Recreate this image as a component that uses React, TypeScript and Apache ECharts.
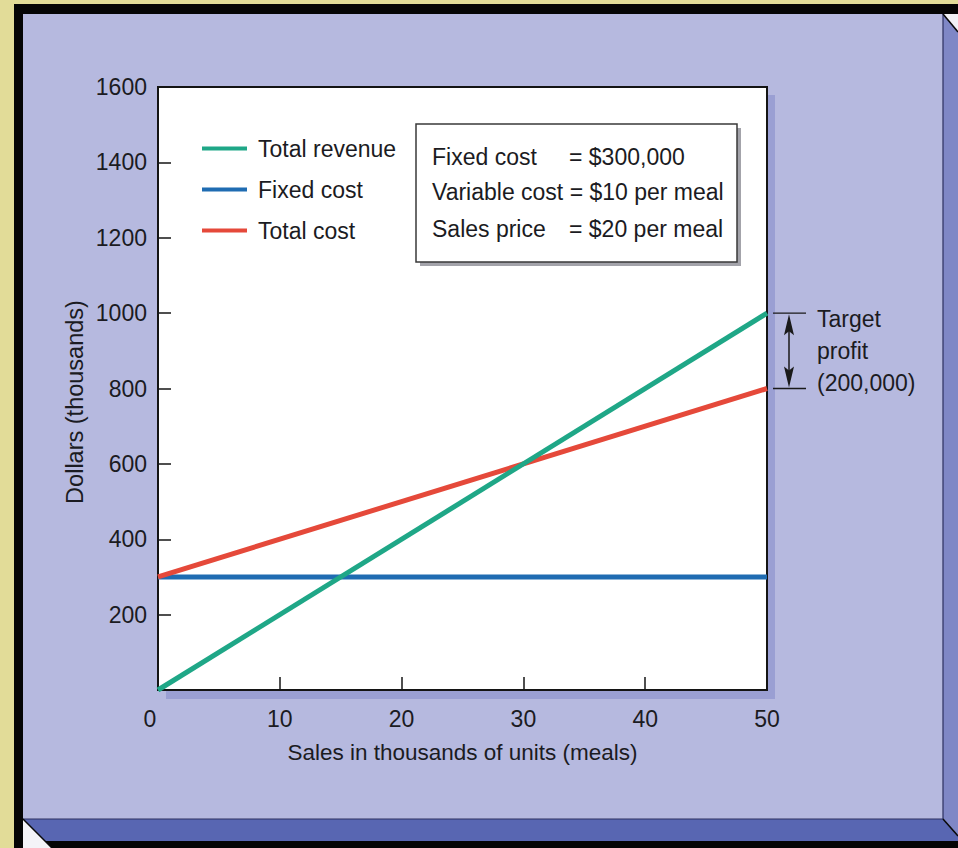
import React, { useEffect, useRef } from "react";
import * as echarts from "echarts";

// Break-even chart: sales volume (thousands of meals) against dollars (thousands)
const salesUnits = [0, 50];
const totalRevenue = [0, 1000];
const fixedCost = [300, 300];
const totalCost = [300, 800];

const xTicks = { min: 0, max: 50, step: 10 };
const yTicks = { min: 0, max: 1600, step: 200 };

const seriesNames = ["Total revenue", "Fixed cost", "Total cost"];
const seriesColors = ["#1fa787", "#1f6cb2", "#e5493a"];

const assumptions = [
  ["Fixed cost", "= $300,000"],
  ["Variable cost = $10 per meal", ""],
  ["Sales price", "= $20 per meal"],
];

const FONT = '"Liberation Sans", Arial, Helvetica, sans-serif';
const INK = "#1b1b22";
const FS = 23;

function pairs(xs: number[], ys: number[]) {
  return xs.map((x, i) => [x, ys[i]]);
}

export default function App() {
  const ref = useRef<HTMLDivElement>(null);

  useEffect(() => {
    document.body.style.margin = "0";
    if (!ref.current) return;
    const chart = echarts.init(ref.current, undefined, { renderer: "svg" });

    const axisLine = { show: true, onZero: false, lineStyle: { color: "#141414", width: 2 } };
    const axisTick = { show: true, inside: true, length: 13, lineStyle: { color: "#141414", width: 1.5 } };

    chart.setOption({
      animation: false,
      backgroundColor: "#e2dc98",
      textStyle: { fontFamily: FONT },
      grid: {
        left: 158,
        top: 87,
        width: 609,
        height: 603,
        show: true,
        backgroundColor: "#ffffff",
        borderColor: "#141414",
        borderWidth: 2,
      },
      legend: {
        data: seriesNames,
        orient: "vertical",
        left: 202,
        top: 137,
        padding: 0,
        icon: "rect",
        itemWidth: 45,
        itemHeight: 4,
        itemGap: 18,
        textStyle: { fontFamily: FONT, fontSize: FS, lineHeight: 22, color: INK, padding: [0, 0, 0, 6] },
      },
      xAxis: {
        type: "value",
        min: xTicks.min,
        max: xTicks.max,
        interval: xTicks.step,
        name: "Sales in thousands of units (meals)",
        nameLocation: "middle",
        nameGap: 51,
        nameTextStyle: { fontFamily: FONT, fontSize: 22.5, color: INK },
        axisLine,
        axisTick,
        splitLine: { show: false },
        axisLabel: {
          fontFamily: FONT,
          fontSize: FS,
          color: INK,
          margin: 17,
          formatter: (v: number) => (v === 0 ? "{origin|0}" : String(v)),
          rich: { origin: { fontFamily: FONT, fontSize: FS, color: INK, padding: [0, 16, 0, 0] } },
        },
      },
      yAxis: {
        type: "value",
        min: yTicks.min,
        max: yTicks.max,
        interval: yTicks.step,
        axisLine,
        axisTick,
        splitLine: { show: false },
        axisLabel: {
          fontFamily: FONT,
          fontSize: FS,
          color: INK,
          margin: 11,
          formatter: (v: number) => (v === 0 ? "" : String(v)),
        },
      },
      series: [
        { name: seriesNames[1], data: pairs(salesUnits, fixedCost), color: seriesColors[1] },
        { name: seriesNames[2], data: pairs(salesUnits, totalCost), color: seriesColors[2] },
        { name: seriesNames[0], data: pairs(salesUnits, totalRevenue), color: seriesColors[0] },
      ].map((s) => ({
        ...s,
        type: "line",
        showSymbol: false,
        symbol: "none",
        lineStyle: { width: 5, color: s.color },
        itemStyle: { color: s.color },
      })),
    });

    // Target-profit bracket, placed from the revenue and cost values at maximum sales
    const lastX = salesUnits[salesUnits.length - 1];
    const highY = chart.convertToPixel({ gridIndex: 0 }, [lastX, totalRevenue[totalRevenue.length - 1]])[1];
    const lowY = chart.convertToPixel({ gridIndex: 0 }, [lastX, totalCost[totalCost.length - 1]])[1];
    const ax = 789;

    const frameLine = { stroke: "#0a0a0a", lineWidth: 1.5 };

    chart.setOption({
      graphic: [
        // framed panel with bevelled edges
        { id: "frame", type: "rect", z: -20, shape: { x: 14, y: 4, width: 944, height: 844 }, style: { fill: "#050505" } },
        { id: "panel", type: "rect", z: -19, shape: { x: 23, y: 14, width: 920, height: 805 }, style: { fill: "#b6b9df" } },
        {
          id: "bevelRight", type: "polygon", z: -19,
          shape: { points: [[943, 14], [958, 32], [958, 836], [943, 819]] },
          style: { fill: "#7f87c6" },
        },
        {
          id: "cornerTR", type: "polygon", z: -19,
          shape: { points: [[943, 14], [958, 14], [958, 32]] },
          style: { fill: "#f2f2f6" },
        },
        {
          id: "bevelBottom", type: "polygon", z: -19,
          shape: { points: [[23, 819], [943, 819], [958, 836], [958, 841], [45, 841]] },
          style: { fill: "#5866b2" },
        },
        {
          id: "cornerBL", type: "polygon", z: -19,
          shape: { points: [[23, 819], [52, 848], [23, 848]] },
          style: { fill: "#f4f4f8" },
        },
        {
          id: "panelEdge", type: "polyline", z: -18,
          shape: { points: [[23, 819], [943, 819], [943, 14]] },
          style: { stroke: "#2c3060", lineWidth: 1.2, fill: "none" },
        },
        { id: "diagTR", type: "line", z: -18, shape: { x1: 943, y1: 14, x2: 958, y2: 32 }, style: frameLine },
        { id: "diagBR", type: "line", z: -18, shape: { x1: 943, y1: 819, x2: 958, y2: 836 }, style: frameLine },
        { id: "diagBL", type: "line", z: -18, shape: { x1: 23, y1: 819, x2: 52, y2: 848 }, style: frameLine },
        // plot drop shadow
        { id: "plotShadow", type: "rect", z: -10, shape: { x: 166, y: 95, width: 609, height: 604 }, style: { fill: "#9a9fd3" } },

        // y-axis title
        {
          id: "yTitle", type: "text", z: 5, x: 75, y: 402, rotation: Math.PI / 2,
          style: { text: "Dollars (thousands)", fontFamily: FONT, fontSize: 23.5, fill: INK, align: "center", verticalAlign: "middle" },
        },

        // assumptions box
        { id: "boxShadow", type: "rect", z: 5, shape: { x: 420, y: 128, width: 321, height: 138 }, style: { fill: "#a3a3aa" } },
        {
          id: "box", type: "rect", z: 6, shape: { x: 416, y: 124, width: 321, height: 138 },
          style: { fill: "#ffffff", stroke: "#3a3a3a", lineWidth: 1.5 },
        },
        ...assumptions.flatMap((row, i) => {
          const y = [157, 192, 229][i];
          const els: any[] = [
            {
              id: `boxL${i}`, type: "text", z: 7, x: 432, y,
              style: { text: row[0], fontFamily: FONT, fontSize: FS, fill: INK, verticalAlign: "middle" },
            },
          ];
          if (row[1]) {
            els.push({
              id: `boxR${i}`, type: "text", z: 7, x: 569, y,
              style: { text: row[1], fontFamily: FONT, fontSize: FS, fill: INK, verticalAlign: "middle" },
            });
          }
          return els;
        }),

        // target profit bracket
        { id: "tpTop", type: "line", z: 5, shape: { x1: 773, y1: highY, x2: 806, y2: highY }, style: { stroke: "#1a1a1a", lineWidth: 1.3 } },
        { id: "tpBot", type: "line", z: 5, shape: { x1: 773, y1: lowY, x2: 806, y2: lowY }, style: { stroke: "#1a1a1a", lineWidth: 1.3 } },
        { id: "tpShaft", type: "line", z: 5, shape: { x1: ax, y1: highY + 8, x2: ax, y2: lowY - 8 }, style: { stroke: "#1a1a1a", lineWidth: 1.5 } },
        {
          id: "tpHeadUp", type: "polygon", z: 5,
          shape: { points: [[ax, highY + 1], [ax + 5, highY + 22], [ax, highY + 18], [ax - 5, highY + 22]] },
          style: { fill: "#1a1a1a" },
        },
        {
          id: "tpHeadDown", type: "polygon", z: 5,
          shape: { points: [[ax, lowY - 1], [ax + 5, lowY - 22], [ax, lowY - 18], [ax - 5, lowY - 22]] },
          style: { fill: "#1a1a1a" },
        },
        {
          id: "tpText", type: "text", z: 5, x: 817, y: highY - 10,
          style: {
            text: "Target\nprofit\n(200,000)",
            fontFamily: FONT, fontSize: FS, lineHeight: 32, fill: INK, verticalAlign: "top",
          },
        },
      ],
    });

    return () => chart.dispose();
  }, []);

  return <div ref={ref} style={{ width: 958, height: 848 }} />;
}
